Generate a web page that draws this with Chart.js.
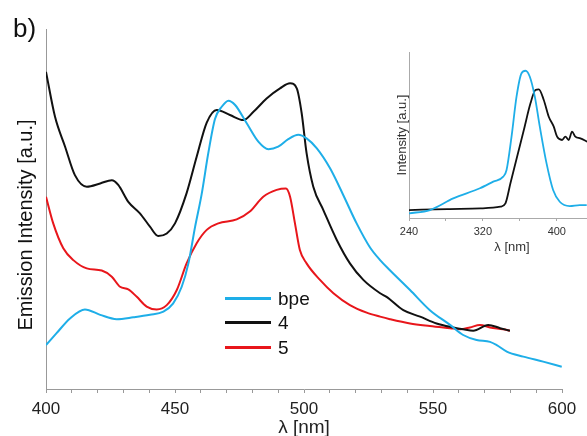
<!DOCTYPE html>
<html><head><meta charset="utf-8">
<script src="https://cdn.jsdelivr.net/npm/chart.js@4/dist/chart.umd.min.js"></script>
<style>
html,body{margin:0;padding:0;background:#fff;}
body{width:587px;height:436px;overflow:hidden;position:relative;font-family:"Liberation Sans",Arial,sans-serif;color:#111;}
#main{position:absolute;left:0;top:0;}
#inset{position:absolute;left:380px;top:30px;}
#panel{position:absolute;left:13px;top:15px;font-size:26px;line-height:1;}
#ytitle{position:absolute;left:25px;top:225px;transform:translate(-50%,-50%) rotate(-90deg);font-size:20px;line-height:1;white-space:nowrap;}
#legend{position:absolute;left:225px;top:286px;}
.row{display:flex;align-items:center;height:24.5px;}
.sw{width:46px;height:3px;margin-right:7px;}
.lab{font-size:19px;line-height:1;}
</style>
</head><body>
<canvas id="main" width="587" height="436"></canvas>
<canvas id="inset" width="240" height="224"></canvas>
<div id="panel">b)</div>
<div id="ytitle">Emission Intensity [a.u.]</div>
<div id="legend"></div>
<script>
// ---- main panel data (emission) ----
const bpeX = [400,404.1,409.3,415.1,421,427.4,433.8,440.3,445.5,449.3,452.6,455.2,457.8,460.3,462.9,465.5,468.1,470.7,473.3,477.8,482.3,486.2,490,493.9,497.8,501,504.9,510.1,515.2,520.4,525.6,529.5,533.3,541.1,548.8,556.6,561.7,566.9,572.1,574.7,578.6,585,592.7,599.9];
const bpeY = [12.2,15.5,19.6,22.1,20.6,19.4,19.9,20.6,21.5,23.8,28.4,34.9,45.1,54,65.5,75,78.4,80.1,78.9,73.8,68.7,66.6,67.3,69.4,70.6,69.6,66.9,61.3,53.9,46,39.3,35.8,33,27.5,21.9,17.8,15,13.6,13.1,12.2,10.4,9,7.6,6.2];
const c4X = [400,403.5,407.4,411.2,415.8,421,425.5,428,431.9,436.4,440.3,443.5,446.8,450,454.5,458.4,462.3,466.2,471.3,476.5,480.4,485.5,490.7,494.6,497.2,499.1,501,503.6,507.5,512.7,517.8,523,529.5,532,538.5,545,551.4,557.9,561.7,565.6,571.4,576,579.8];
const c4Y = [88.1,75.6,67.3,59.4,56.2,57.1,58,56.7,52,48.8,45.1,42.5,43.2,46,54.4,64.5,74,77.5,76.1,74.7,77,80.7,83.5,84.9,83.5,76.6,65.5,56.2,49.7,41.4,34.9,30.3,26.6,25.6,21.9,20.1,18.2,17.1,16.6,16.2,17.8,16.9,16.2];
const c5X = [400,402.8,406.7,410.6,415.8,421.6,425.5,428.7,431.9,435.2,439,442.9,446.8,450.7,454.5,458.4,462.3,466.8,473.9,479,484.2,489.4,493,494.6,496.5,498.4,501,506.2,511.4,517.8,524.3,529.5,533.3,541.1,548.8,556.6,560.5,564.3,568.2,572.1,577.2,579.8];
const c5Y = [53.4,46,39.1,35.8,33.5,32.9,31.2,28.4,27.7,25.6,22.9,22.1,23.3,27.5,34.9,40.5,44.2,46,47.1,49.3,53.4,55.3,55.7,53.4,46,38.6,34.9,30.3,26.6,23.3,21.2,20.1,19.4,18.2,17.5,16.9,16.6,17.1,17.8,17.1,16.6,16.2];
const seriesNames = ['bpe','4','5'];
const seriesColors = ['#1eaee8','#111111','#e8161b'];
const mainTickLabels = [400,450,500,550,600];

// ---- inset data (excitation) ----
const insBpeX = [240,262.7,287.9,316.8,331.2,342,345.6,351,356.4,361.8,366.1,370.8,376.2,381.6,388.9,396,403.2,414,424.9,432.4];
const insBpeY = [2.8,4.8,11.8,17.9,21.9,24.9,28.9,49,73.1,87.2,88.7,85.1,73.1,55,32.9,16.9,9.8,7.2,7.8,7.8];
const ins4X = [240,281.4,317.4,339,344.4,349.8,357,364.3,371.5,376.9,380.5,385.9,391.3,396.7,400.3,405.7,409.3,412.9,416.5,420.1,425.5,433];
const ins4Y = [4.8,5.4,5.8,6.8,8.8,20.9,36.9,53,69.1,77.1,77.5,71.1,61,55,49,47,49,47,52,49,48,46];
const insetTickLabels = [240,320,400];

const pts = (xs, ys) => xs.map((x,i) => ({x:x, y:ys[i]}));
const FONT = '"Liberation Sans", Arial, sans-serif';

// legend
const lg = document.getElementById('legend');
seriesNames.forEach((n,i) => {
  const r = document.createElement('div'); r.className='row';
  r.innerHTML = '<div class="sw" style="background:'+seriesColors[i]+'"></div><div class="lab">'+n+'</div>';
  lg.appendChild(r);
});

const lineDs = (label, data, color, w) => ({label, data, borderColor:color, backgroundColor:color, borderWidth:w, pointRadius:0, cubicInterpolationMode:'monotone', fill:false});

new Chart(document.getElementById('main'), {
  type:'line',
  data:{datasets:[
    lineDs(seriesNames[0], pts(bpeX,bpeY), seriesColors[0], 2),
    lineDs(seriesNames[1], pts(c4X,c4Y), seriesColors[1], 2),
    lineDs(seriesNames[2], pts(c5X,c5Y), seriesColors[2], 2)
  ]},
  options:{
    responsive:false, animation:false, devicePixelRatio:1,
    layout:{padding:{top:29,right:25,left:0,bottom:0}},
    plugins:{legend:{display:false}, tooltip:{enabled:false}},
    scales:{
      x:{type:'linear', min:400, max:600,
        ticks:{stepSize:10, autoSkip:false, maxRotation:0, padding:6, color:'#222', font:{family:FONT,size:17},
          callback:(v)=> mainTickLabels.includes(v) ? String(v) : ''},
        grid:{drawOnChartArea:false, drawTicks:true, tickLength:4, color:'#999'},
        border:{display:true, color:'#999', width:1},
        title:{display:true, text:'λ [nm]', color:'#222', font:{family:FONT,size:19,lineHeight:0.85}, padding:{top:0,bottom:0}},
        afterFit:(s)=>{s.height=47;}
      },
      y:{type:'linear', min:0, max:100,
        ticks:{display:false},
        grid:{display:false},
        border:{display:true, color:'#999', width:1},
        afterFit:(s)=>{s.width=46;}
      }
    }
  }
});

new Chart(document.getElementById('inset'), {
  type:'line',
  data:{datasets:[
    lineDs('bpe', pts(insBpeX,insBpeY), seriesColors[0], 1.8),
    lineDs('4', pts(ins4X,ins4Y), seriesColors[1], 1.8)
  ]},
  options:{
    responsive:false, animation:false, devicePixelRatio:1,
    layout:{padding:{top:22,right:5,left:0,bottom:0}},
    plugins:{legend:{display:false}, tooltip:{enabled:false}},
    scales:{
      x:{type:'linear', min:240, max:463,
        ticks:{stepSize:40, autoSkip:false, maxRotation:0, padding:4, color:'#333', font:{family:FONT,size:11},
          callback:(v)=> insetTickLabels.includes(v) ? String(v) : ''},
        grid:{drawOnChartArea:false, drawTicks:true, tickLength:3, color:'#aaa'},
        border:{display:true, color:'#aaa', width:1},
        title:{display:true, text:'λ [nm]', color:'#333', font:{family:FONT,size:13,lineHeight:1}, padding:{top:6,bottom:0}},
        afterFit:(s)=>{s.height=36;}
      },
      y:{type:'linear', min:0, max:100,
        ticks:{display:false},
        grid:{display:false},
        border:{display:true, color:'#aaa', width:1},
        title:{display:true, text:'Intensity [a.u.]', color:'#333', font:{family:FONT,size:13,lineHeight:1}, padding:{top:16,bottom:0}},
        afterFit:(s)=>{s.width=29;}
      }
    }
  }
});
</script>
</body></html>
